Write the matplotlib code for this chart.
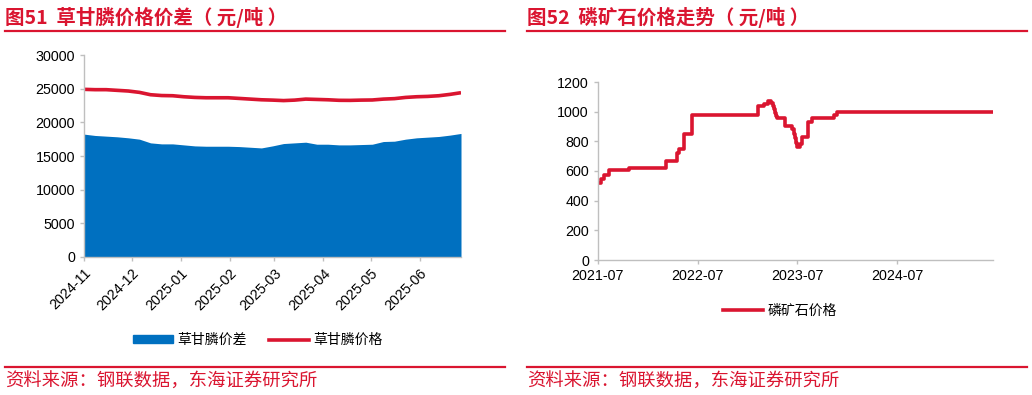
import numpy as np
import pandas as pd
import matplotlib
matplotlib.use("Agg")
import matplotlib.pyplot as plt
import matplotlib.dates as mdates
from matplotlib.lines import Line2D
from matplotlib.patches import Patch

plt.rcParams['font.family'] = ['Liberation Sans', 'Noto Sans CJK SC', 'DejaVu Sans']

RED = '#DA1530'
BLUE = '#0070C0'
GRAY = '#BFBFBF'
CJK = ['Noto Sans CJK SC', 'DejaVu Sans']

# 图51 数据：周度，2024-11-01 起
weeks = pd.date_range('2024-11-01', periods=35, freq='7D')
spread = [18250, 18050, 17950, 17850, 17700, 17500, 16950, 16800, 16800, 16650,
          16500, 16450, 16450, 16450, 16400, 16300, 16200, 16500, 16850, 16950,
          17050, 16750, 16750, 16650, 16650, 16700, 16750, 17150, 17200, 17500,
          17700, 17800, 17900, 18100, 18350]
price = [24900, 24850, 24850, 24750, 24650, 24450, 24100, 23980, 23950, 23800,
         23700, 23650, 23650, 23650, 23550, 23450, 23350, 23300, 23230, 23300,
         23450, 23400, 23350, 23270, 23260, 23300, 23320, 23450, 23520, 23700,
         23800, 23850, 23950, 24150, 24400]
month_ticks = pd.date_range('2024-11-01', '2025-06-01', freq='MS')

# 图52 数据：磷矿石价格
ore_dates = pd.to_datetime([
    '2021-07-01', '2021-07-12', '2021-07-24', '2021-08-09', '2021-10-21',
    '2022-03-07', '2022-04-15', '2022-04-25', '2022-05-13', '2022-06-09',
    '2023-02-09', '2023-03-03', '2023-03-15', '2023-03-29', '2023-04-02',
    '2023-04-06', '2023-04-10', '2023-04-14', '2023-04-18', '2023-05-16',
    '2023-06-14', '2023-06-18', '2023-06-22', '2023-06-26', '2023-06-30',
    '2023-07-03', '2023-07-10', '2023-07-17', '2023-08-11',
    '2023-08-25', '2023-11-13', '2023-11-23', '2025-06-18'])
ore_price = [520, 545, 570, 610, 620,
             670, 720, 750, 850, 975,
             1035, 1055, 1075, 1060, 1040,
             1015, 990, 970, 955, 905,
             880, 850, 820, 790, 765,
             760, 780, 830, 930,
             960, 975, 1000, 1000]
ore_ticks = pd.to_datetime(['2021-07-01', '2022-07-01', '2023-07-01', '2024-07-01'])

W, H = 1032, 395
fig = plt.figure(figsize=(W / 100, H / 100), dpi=100)


def px(x0, y0, x1, y1):
    return [x0 / W, 1 - y1 / H, (x1 - x0) / W, (y1 - y0) / H]


def style_axes(ax):
    for s in ['top', 'right']:
        ax.spines[s].set_visible(False)
    for s in ['left', 'bottom']:
        ax.spines[s].set_color(GRAY)
        ax.spines[s].set_linewidth(1.0)
    ax.tick_params(axis='both', colors=GRAY, labelcolor='black', labelsize=10.3,
                   length=3, width=1.0)


# ---- 左图
ax1 = fig.add_axes(px(84, 55, 461, 257))
ax1.fill_between(weeks, 0, spread, color=BLUE, linewidth=0)
ax1.plot(weeks, price, color=RED, lw=2.6, solid_capstyle='butt')
ax1.set_ylim(0, 30000)
ax1.set_yticks(np.arange(0, 30001, 5000))
ax1.set_xlim(weeks[0], weeks[-1])
ax1.set_xticks(month_ticks)
ax1.xaxis.set_major_formatter(mdates.DateFormatter('%Y-%m'))
style_axes(ax1)
for lab in ax1.get_xticklabels():
    lab.set_rotation(45)
    lab.set_ha('right')
    lab.set_rotation_mode('anchor')

fig.legend(handles=[Patch(color=BLUE, label='草甘膦价差'),
                    Line2D([], [], color=RED, lw=2.6, label='草甘膦价格')],
           loc='center', bbox_to_anchor=(258 / W, 1 - 340 / H), ncol=2,
           frameon=False, prop={'family': CJK, 'size': 10},
           handlelength=2.9, handleheight=0.45, columnspacing=1.6, handletextpad=0.3)

# ---- 右图
ax2 = fig.add_axes(px(598, 82, 993, 260))
ax2.plot(ore_dates, ore_price, color=RED, lw=2.6, drawstyle='steps-post')
ax2.set_ylim(0, 1200)
ax2.set_yticks(np.arange(0, 1201, 200))
ax2.set_xlim(pd.Timestamp('2021-07-01'), ore_dates[-1])
ax2.set_xticks(ore_ticks)
ax2.xaxis.set_major_formatter(mdates.DateFormatter('%Y-%m'))
style_axes(ax2)

fig.legend(handles=[Line2D([], [], color=RED, lw=2.6, label='磷矿石价格')],
           loc='center', bbox_to_anchor=(780 / W, 1 - 311 / H), frameon=False,
           prop={'family': CJK, 'size': 10}, handlelength=2.9, handletextpad=0.3)

# ---- 标题与来源
titles = [(5, 505, '图51  草甘膦价格价差（ 元/吨 ）'), (527, 1027, '图52  磷矿石价格走势（ 元/吨 ）')]
for x0, x1, t in titles:
    fig.text(x0 / W, 1 - 17 / H, t, color=RED, fontsize=14, fontweight='bold',
             family=CJK, va='center', ha='left')
    fig.add_artist(Line2D([x0 / W, x1 / W], [1 - 31 / H] * 2, color=RED, lw=1.6))
    fig.add_artist(Line2D([x0 / W, x1 / W], [1 - 367 / H] * 2, color=RED, lw=1.6))
    fig.text(x0 / W, 1 - 382 / H, '资料来源：钢联数据，东海证券研究所', color=RED,
             fontsize=13.2, family=CJK, va='center', ha='left')

fig.savefig('out.png', dpi=100)
